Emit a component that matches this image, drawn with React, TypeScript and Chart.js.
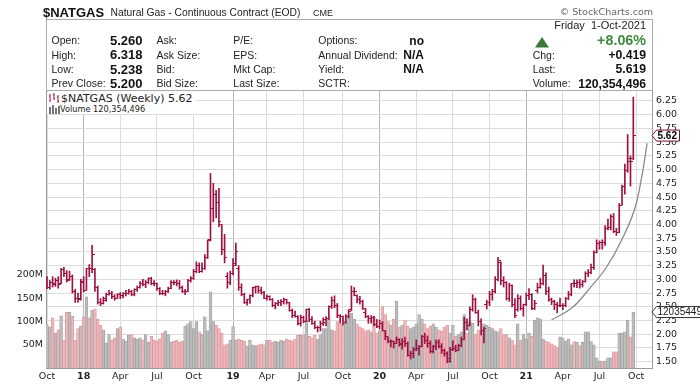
import React, { useEffect, useRef } from 'react';
import { Chart, registerables } from 'chart.js';

Chart.register(...registerables);

// ---------- data (weekly bars, week index 0 = week of 2 Oct 2017) ----------
const OPEN = [
  3.01, 2.86, 2.95, 2.90, 2.98, 2.92, 3.18, 3.10, 3.00, 3.05, 2.78, 2.66, 2.65,
  2.96, 2.80, 3.20, 3.19, 3.18, 2.85, 2.58, 2.56, 2.66, 2.73, 2.75, 2.69, 2.66,
  2.73, 2.70, 2.74, 2.74, 2.78, 2.72, 2.81, 2.85, 2.93, 2.90, 2.95, 3.02, 2.93,
  2.92, 2.83, 2.75, 2.74, 2.78, 2.84, 2.95, 2.94, 2.93, 2.86, 2.78, 2.78, 2.98,
  3.01, 3.14, 3.25, 3.15, 3.20, 3.40, 3.72, 4.30, 4.55, 4.40, 4.00, 3.55, 3.05,
  2.95, 3.10, 3.28, 3.20, 2.85, 2.72, 2.58, 2.63, 2.70, 2.85, 2.87, 2.79, 2.76,
  2.66, 2.68, 2.64, 2.52, 2.56, 2.58, 2.60, 2.63, 2.57, 2.44, 2.34, 2.33, 2.20,
  2.31, 2.24, 2.45, 2.27, 2.20, 2.12, 2.12, 2.20, 2.22, 2.29, 2.50, 2.62, 2.52,
  2.35, 2.32, 2.21, 2.32, 2.45, 2.78, 2.70, 2.63, 2.60, 2.40, 2.33, 2.28, 2.31,
  2.18, 2.14, 2.20, 2.06, 1.95, 1.86, 1.86, 1.84, 1.90, 1.84, 1.87, 1.83, 1.62,
  1.65, 1.73, 1.74, 1.78, 1.95, 1.89, 1.84, 1.69, 1.78, 1.85, 1.78, 1.70, 1.65,
  1.55, 1.72, 1.74, 1.70, 1.80, 1.91, 2.21, 2.16, 2.45, 2.63, 2.40, 2.24, 2.06,
  2.55, 2.57, 2.73, 2.77, 3.00, 3.30, 2.98, 2.95, 2.65, 2.88, 2.55, 2.45, 2.66,
  2.47, 2.54, 2.70, 2.72, 2.47, 2.80, 2.86, 2.92, 3.07, 2.77, 2.63, 2.60, 2.54,
  2.52, 2.52, 2.52, 2.65, 2.73, 2.93, 2.92, 2.95, 2.91, 2.97, 3.10, 3.12, 3.22,
  3.49, 3.65, 3.68, 3.67, 3.93, 3.95, 4.14, 3.88, 3.85, 4.35, 4.70, 4.98, 5.15,
  5.20,
];
const HIGH = [
  3.05, 2.98, 3.05, 3.02, 3.05, 3.20, 3.22, 3.16, 3.15, 3.08, 2.82, 2.75, 3.00,
  3.05, 3.20, 3.27, 3.62, 3.20, 2.88, 2.65, 2.68, 2.75, 2.80, 2.78, 2.72, 2.74,
  2.76, 2.76, 2.80, 2.82, 2.80, 2.83, 2.88, 2.96, 3.00, 2.98, 3.03, 3.04, 2.98,
  2.93, 2.85, 2.80, 2.80, 2.86, 2.98, 2.98, 2.99, 2.98, 2.88, 2.82, 3.00, 3.05,
  3.18, 3.32, 3.30, 3.30, 3.45, 3.72, 4.93, 4.75, 4.62, 4.66, 4.00, 3.82, 3.12,
  3.15, 3.38, 3.66, 3.25, 2.92, 2.75, 2.64, 2.72, 2.86, 2.88, 2.88, 2.86, 2.78,
  2.72, 2.70, 2.65, 2.58, 2.62, 2.63, 2.66, 2.64, 2.58, 2.46, 2.42, 2.34, 2.35,
  2.33, 2.46, 2.47, 2.32, 2.24, 2.15, 2.24, 2.30, 2.32, 2.52, 2.68, 2.70, 2.56,
  2.36, 2.33, 2.36, 2.45, 2.88, 2.85, 2.72, 2.69, 2.62, 2.47, 2.34, 2.34, 2.33,
  2.27, 2.26, 2.23, 2.07, 1.95, 1.90, 1.88, 1.95, 1.92, 1.92, 1.95, 1.86, 1.69,
  1.76, 1.90, 1.80, 1.98, 2.02, 1.97, 1.88, 1.80, 1.90, 1.90, 1.83, 1.73, 1.68,
  1.76, 1.88, 1.80, 1.82, 1.95, 2.31, 2.28, 2.50, 2.72, 2.66, 2.44, 2.28, 2.13,
  2.62, 2.78, 2.82, 3.05, 3.40, 3.32, 3.05, 2.96, 2.93, 2.90, 2.65, 2.72, 2.70,
  2.55, 2.75, 2.83, 2.74, 2.62, 2.93, 3.02, 3.26, 3.12, 2.86, 2.66, 2.62, 2.58,
  2.66, 2.56, 2.67, 2.78, 2.93, 2.99, 2.99, 3.00, 2.98, 3.14, 3.18, 3.28, 3.52,
  3.72, 3.70, 3.72, 3.98, 4.10, 4.18, 4.20, 3.93, 4.38, 4.72, 5.10, 5.64, 5.25,
  6.32,
];
const LOW = [
  2.83, 2.82, 2.86, 2.87, 2.84, 2.92, 3.05, 2.95, 2.98, 2.75, 2.58, 2.58, 2.62,
  2.77, 2.80, 3.05, 3.12, 2.78, 2.55, 2.52, 2.55, 2.60, 2.71, 2.65, 2.62, 2.65,
  2.65, 2.66, 2.70, 2.73, 2.70, 2.70, 2.78, 2.84, 2.88, 2.85, 2.92, 2.90, 2.88,
  2.80, 2.72, 2.72, 2.70, 2.76, 2.83, 2.90, 2.88, 2.82, 2.76, 2.72, 2.77, 2.95,
  3.00, 3.12, 3.12, 3.13, 3.18, 3.38, 3.70, 4.05, 4.12, 3.96, 3.45, 3.30, 2.84,
  2.90, 3.08, 3.25, 2.80, 2.70, 2.56, 2.53, 2.56, 2.68, 2.75, 2.75, 2.73, 2.65,
  2.62, 2.62, 2.50, 2.46, 2.52, 2.52, 2.55, 2.55, 2.42, 2.30, 2.31, 2.17, 2.15,
  2.21, 2.23, 2.23, 2.18, 2.10, 2.04, 2.06, 2.16, 2.15, 2.27, 2.47, 2.48, 2.30,
  2.20, 2.17, 2.20, 2.30, 2.43, 2.70, 2.57, 2.55, 2.45, 2.30, 2.20, 2.20, 2.15,
  2.12, 2.10, 2.06, 1.90, 1.84, 1.77, 1.75, 1.83, 1.78, 1.73, 1.78, 1.60, 1.55,
  1.57, 1.70, 1.62, 1.77, 1.83, 1.76, 1.66, 1.66, 1.72, 1.75, 1.65, 1.60, 1.48,
  1.49, 1.70, 1.68, 1.70, 1.77, 1.90, 2.08, 2.15, 2.42, 2.38, 2.15, 1.99, 1.84,
  2.46, 2.52, 2.62, 2.75, 2.97, 2.90, 2.86, 2.62, 2.60, 2.50, 2.30, 2.42, 2.44,
  2.33, 2.52, 2.63, 2.45, 2.45, 2.75, 2.84, 2.90, 2.72, 2.60, 2.54, 2.45, 2.39,
  2.50, 2.45, 2.50, 2.63, 2.70, 2.86, 2.85, 2.84, 2.86, 2.95, 3.05, 3.10, 3.18,
  3.48, 3.55, 3.55, 3.62, 3.90, 3.90, 3.85, 3.80, 3.85, 4.35, 4.55, 4.95, 4.70,
  5.18,
];
const CLOSE = [
  2.85, 2.95, 2.92, 2.98, 2.90, 3.18, 3.10, 2.98, 3.06, 2.78, 2.66, 2.64, 2.95,
  2.80, 3.20, 3.19, 3.45, 2.85, 2.58, 2.56, 2.62, 2.73, 2.75, 2.69, 2.66, 2.73,
  2.70, 2.74, 2.74, 2.78, 2.72, 2.81, 2.85, 2.93, 2.90, 2.95, 3.02, 2.93, 2.92,
  2.83, 2.75, 2.74, 2.78, 2.84, 2.95, 2.94, 2.93, 2.86, 2.78, 2.78, 2.98, 3.01,
  3.14, 3.25, 3.15, 3.20, 3.40, 3.70, 4.30, 4.55, 4.40, 4.05, 3.55, 3.40, 2.95,
  3.10, 3.25, 3.50, 2.85, 2.72, 2.58, 2.63, 2.70, 2.85, 2.87, 2.79, 2.76, 2.66,
  2.68, 2.64, 2.52, 2.56, 2.58, 2.60, 2.63, 2.57, 2.44, 2.34, 2.33, 2.20, 2.31,
  2.24, 2.45, 2.27, 2.20, 2.12, 2.12, 2.20, 2.27, 2.29, 2.50, 2.62, 2.52, 2.35,
  2.32, 2.21, 2.32, 2.41, 2.78, 2.78, 2.63, 2.60, 2.46, 2.33, 2.28, 2.31, 2.18,
  2.14, 2.20, 2.06, 1.95, 1.86, 1.86, 1.84, 1.90, 1.82, 1.87, 1.83, 1.62, 1.65,
  1.73, 1.74, 1.78, 1.95, 1.89, 1.84, 1.69, 1.78, 1.85, 1.78, 1.70, 1.65, 1.50,
  1.72, 1.74, 1.70, 1.80, 1.91, 2.21, 2.16, 2.45, 2.63, 2.40, 2.24, 2.06, 2.10,
  2.57, 2.73, 2.77, 3.00, 3.35, 2.98, 2.95, 2.65, 2.88, 2.55, 2.35, 2.66, 2.47,
  2.54, 2.70, 2.72, 2.47, 2.56, 2.86, 2.92, 3.07, 2.77, 2.63, 2.60, 2.54, 2.52,
  2.52, 2.52, 2.65, 2.73, 2.93, 2.92, 2.95, 2.91, 2.97, 3.10, 3.12, 3.22, 3.49,
  3.65, 3.68, 3.67, 3.93, 3.95, 4.14, 3.88, 3.85, 4.35, 4.70, 4.98, 5.20, 5.14,
  5.62,
];
// weekly volume, millions
const VOLUME_M = [
  92, 88, 108, 75, 82, 112, 60, 120, 120, 111, 60, 85, 90,
  110, 153, 108, 124, 127, 105, 92, 82, 54, 72, 60, 65, 85,
  88, 62, 58, 70, 72, 65, 62, 65, 60, 72, 55, 68, 60,
  58, 62, 75, 80, 72, 55, 58, 60, 55, 58, 90, 95, 100,
  85, 100, 78, 72, 110, 80, 164, 100, 92, 85, 75, 50, 52,
  60, 89, 60, 62, 60, 58, 47, 60, 50, 48, 50, 52, 50,
  60, 60, 55, 58, 55, 60, 58, 62, 60, 58, 62, 70, 70,
  72, 102, 68, 65, 70, 62, 72, 85, 85, 107, 82, 80, 100,
  95, 92, 100, 112, 118, 105, 95, 88, 85, 80, 82, 78, 110,
  75, 80, 132, 115, 100, 92, 105, 144, 88, 92, 102, 90, 85,
  88, 95, 115, 105, 95, 85, 90, 95, 88, 82, 80, 88, 92,
  75, 92, 68, 72, 78, 115, 75, 100, 96, 72, 82, 78, 95,
  92, 88, 85, 80, 78, 85, 72, 72, 65, 60, 50, 95, 60,
  72, 62, 75, 68, 103, 108, 106, 62, 58, 56, 52, 48, 45,
  67, 64, 58, 62, 50, 57, 55, 48, 55, 78, 78, 57, 50,
  22, 15, 14, 15, 22, 22, 35, 35, 75, 75, 78, 103, 67,
  120.354496,
];

const X_TICKS = [0, 13, 26, 39, 52, 66, 78, 91, 105, 118, 131, 144, 157, 170, 183, 196, 209];
const X_LABELS = ['Oct', '18', 'Apr', 'Jul', 'Oct', '19', 'Apr', 'Jul', 'Oct', '20', 'Apr', 'Jul', 'Oct', '21', 'Apr', 'Jul', 'Oct'];
const YEAR_LABELS = ['18', '19', '20', '21'];
const PRICE_TICKS = [1.5, 1.75, 2.0, 2.25, 2.5, 2.75, 3.0, 3.25, 3.5, 3.75, 4.0, 4.25, 4.5, 4.75, 5.0, 5.25, 5.5, 5.75, 6.0, 6.25];
const VOL_TICKS = [50, 100, 150, 200];

// hand-drawn arc annotation (week index, price)
const ARC_X = [179.0, 186.7, 192.6, 198.6, 203.9, 209.2, 211.5, 212.9];
const ARC_Y = [2.26, 2.5, 2.84, 3.23, 3.72, 4.41, 5.02, 5.48];

const LAST_PRICE = 5.62;
const LAST_VOLUME = 120354496;

// ---------- styles ----------
const VERDANA = "'DejaVu Sans', Verdana, sans-serif";
const ARIAL = "'Liberation Sans', Arial, sans-serif";
const BAR_COLOR = '#9e1243';
const X_MIN = -0.355;
const X_MAX = 214.63;
const P_MIN = 1.385;
const P_MAX = 6.432;
const V_MAX = 595.7;

function makeTick(side: 'left' | 'right') {
  const c = document.createElement('canvas');
  c.width = 5;
  c.height = 1;
  const g = c.getContext('2d')!;
  g.fillStyle = BAR_COLOR;
  if (side === 'left') g.fillRect(0, 0, 2, 1);
  else g.fillRect(3, 0, 2, 1);
  return c;
}

function drawTag(ctx: CanvasRenderingContext2D, tip: number, y: number, w: number, text: string, bold: boolean, stroke: string, color: string) {
  const h = 5.5;
  ctx.save();
  ctx.beginPath();
  ctx.moveTo(tip, y);
  ctx.lineTo(tip + 4.5, y - h);
  ctx.lineTo(tip + 4.5 + w, y - h);
  ctx.lineTo(tip + 4.5 + w, y + h);
  ctx.lineTo(tip + 4.5, y + h);
  ctx.closePath();
  ctx.fillStyle = '#fff';
  ctx.fill();
  ctx.lineWidth = 1;
  ctx.strokeStyle = stroke;
  ctx.stroke();
  ctx.fillStyle = color;
  ctx.font = (bold ? 'bold ' : '') + '10px ' + ARIAL;
  ctx.textBaseline = 'middle';
  ctx.textAlign = 'left';
  ctx.fillText(text, tip + 5.5, y + 0.5);
  ctx.restore();
}

const tagPlugin = {
  id: 'lastTags',
  afterDraw(chart: any) {
    const ctx = chart.ctx;
    const area = chart.chartArea;
    const yv = chart.scales.vol.getPixelForValue(LAST_VOLUME / 1e6);
    drawTag(ctx, area.right, yv, 60, String(LAST_VOLUME), false, '#333', '#222');
    const yp = chart.scales.price.getPixelForValue(LAST_PRICE);
    drawTag(ctx, area.right, yp, 23, LAST_PRICE.toFixed(2), true, '#7a1030', '#000');
  },
};

function T(props: { x: number; y: number; s: number; b?: boolean; c?: string; r?: boolean; f?: string; children: any }) {
  const { x, y, s, b, c, r, f, children } = props;
  return (
    <div
      style={{
        position: 'absolute',
        left: r ? undefined : x,
        right: r ? 700 - x : undefined,
        top: y - s * 0.5,
        fontSize: s,
        lineHeight: 1,
        fontWeight: b ? 'bold' : 'normal',
        color: c || '#222',
        fontFamily: f || ARIAL,
        whiteSpace: 'pre',
      }}
    >
      {children}
    </div>
  );
}

export default function App() {
  const ref = useRef<HTMLCanvasElement | null>(null);

  useEffect(() => {
    if (!ref.current) return;
    const idx = CLOSE.map((_, i) => i);
    const volColors = idx.map((i) => (i > 0 && CLOSE[i] < CLOSE[i - 1] ? '#f0b7bb' : '#bdbdbd'));
    const volBorders = idx.map((i) => (i > 0 && CLOSE[i] < CLOSE[i - 1] ? '#d7959b' : '#9d9d9d'));
    const chart = new Chart(ref.current, {
      type: 'bar',
      data: {
        datasets: [
          {
            type: 'scatter',
            data: idx.map((i) => ({ x: i, y: CLOSE[i] })),
            yAxisID: 'price',
            pointStyle: makeTick('right') as any,
            pointRadius: 1,
            order: 0,
          } as any,
          {
            type: 'scatter',
            data: idx.map((i) => ({ x: i, y: OPEN[i] })),
            yAxisID: 'price',
            pointStyle: makeTick('left') as any,
            pointRadius: 1,
            order: 0,
          } as any,
          {
            type: 'bar',
            data: idx.map((i) => ({ x: i, y: [LOW[i], HIGH[i]] })),
            yAxisID: 'price',
            backgroundColor: BAR_COLOR,
            barThickness: 1,
            grouped: false,
            borderWidth: 0,
            order: 1,
          } as any,
          {
            type: 'line',
            data: ARC_X.map((x, k) => ({ x, y: ARC_Y[k] })),
            yAxisID: 'price',
            borderColor: '#8a8a8a',
            borderWidth: 1.3,
            pointRadius: 0,
            cubicInterpolationMode: 'monotone',
            fill: false,
            order: 2,
          } as any,
          {
            type: 'bar',
            data: idx.map((i) => ({ x: i, y: VOLUME_M[i] })),
            yAxisID: 'vol',
            backgroundColor: volColors,
            borderColor: volBorders,
            borderWidth: 0.7,
            barThickness: 2.82,
            grouped: false,
            order: 3,
          } as any,
        ],
      },
      options: {
        animation: false,
        responsive: false,
        maintainAspectRatio: false,
        events: [],
        layout: { padding: { top: 91, left: 0, right: 0, bottom: 0 } },
        plugins: { legend: { display: false }, tooltip: { enabled: false } },
        scales: {
          x: {
            type: 'linear',
            min: X_MIN,
            max: X_MAX,
            offset: false,
            afterBuildTicks: (s: any) => {
              s.ticks = X_TICKS.map((v) => ({ value: v }));
            },
            afterFit: (s: any) => {
              s.height = 17;
            },
            grid: {
              offset: false,
              drawTicks: false,
              color: (ctx: any) => {
                const k = X_TICKS.indexOf(ctx.tick ? ctx.tick.value : -1);
                return k >= 0 && YEAR_LABELS.includes(X_LABELS[k]) ? '#b5b5b5' : '#dcdcdc';
              },
            },
            border: { display: true, color: '#9a9a9a' },
            ticks: {
              autoSkip: false,
              maxRotation: 0,
              padding: 3,
              color: '#222',
              font: (ctx: any) => {
                const k = X_TICKS.indexOf(ctx.tick ? ctx.tick.value : -1);
                const yr = k >= 0 && YEAR_LABELS.includes(X_LABELS[k]);
                return { family: VERDANA, size: 9.5, weight: yr ? 'bold' : 'normal' };
              },
              callback: (_v: any, i: number) => X_LABELS[i],
            },
          } as any,
          price: {
            type: 'linear',
            position: 'right',
            min: P_MIN,
            max: P_MAX,
            beginAtZero: false,
            afterBuildTicks: (s: any) => {
              s.ticks = PRICE_TICKS.map((v) => ({ value: v }));
            },
            afterFit: (s: any) => {
              s.width = 48;
            },
            grid: { drawTicks: false, color: '#dcdcdc' },
            border: { display: true, color: '#9a9a9a' },
            ticks: {
              padding: 4,
              color: '#222',
              font: { family: VERDANA, size: 9.5 },
              callback: (v: any) => Number(v).toFixed(2),
            },
          } as any,
          vol: {
            type: 'linear',
            position: 'left',
            min: 0,
            max: V_MAX,
            afterBuildTicks: (s: any) => {
              s.ticks = VOL_TICKS.map((v) => ({ value: v }));
            },
            afterFit: (s: any) => {
              s.width = 46;
            },
            grid: { display: false, drawTicks: false },
            border: { display: true, color: '#9a9a9a' },
            ticks: {
              padding: 3,
              color: '#222',
              font: { family: VERDANA, size: 9.5 },
              callback: (v: any) => v + 'M',
            },
          } as any,
        },
      },
      plugins: [tagPlugin],
    });
    return () => chart.destroy();
  }, []);

  const rows = [40.5, 54.8, 69.2, 83.6];
  return (
    <div style={{ position: 'absolute', left: 0, top: 0, width: 700, height: 385, background: '#fff', overflow: 'hidden' }}>
      <canvas ref={ref} width={700} height={385} style={{ position: 'absolute', left: 0, top: 0, width: 700, height: 385 }} />
      {/* title line */}
      <T x={43} y={12} s={13} b c="#111">$NATGAS</T>
      <T x={110.5} y={12.8} s={10.3} c="#222">Natural Gas - Continuous Contract (EOD)</T>
      <T x={313} y={13.2} s={9} c="#222">CME</T>
      <T x={653} y={11.7} s={9.5} r f={VERDANA} c="#666">© StockCharts.com</T>
      {/* header box */}
      <div style={{ position: 'absolute', left: 46, top: 19, width: 607, height: 72, border: '1px solid #ababab', boxSizing: 'border-box' }} />
      <T x={646} y={25.3} s={11} r>{'Friday  1-Oct-2021'}</T>
      {['Open:', 'High:', 'Low:', 'Prev Close:'].map((t, k) => (
        <T key={'a' + k} x={51.5} y={rows[k]} s={10.5}>{t}</T>
      ))}
      {['5.260', '6.318', '5.238', '5.200'].map((t, k) => (
        <T key={'b' + k} x={110} y={rows[k]} s={13} b c="#111">{t}</T>
      ))}
      {['Ask:', 'Ask Size:', 'Bid:', 'Bid Size:'].map((t, k) => (
        <T key={'c' + k} x={156.5} y={rows[k]} s={10.5}>{t}</T>
      ))}
      {['P/E:', 'EPS:', 'Mkt Cap:', 'Last Size:'].map((t, k) => (
        <T key={'d' + k} x={233.3} y={rows[k]} s={10.5}>{t}</T>
      ))}
      {['Options:', 'Annual Dividend:', 'Yield:', 'SCTR:'].map((t, k) => (
        <T key={'e' + k} x={318.3} y={rows[k]} s={10.5}>{t}</T>
      ))}
      {['no', 'N/A', 'N/A'].map((t, k) => (
        <T key={'f' + k} x={424} y={rows[k]} s={12} b r c="#111">{t}</T>
      ))}
      <svg style={{ position: 'absolute', left: 535, top: 36.5 }} width={15} height={11}>
        <polygon points="7,0 14,10.5 0,10.5" fill="#3c7a3c" />
      </svg>
      <T x={646} y={rows[0]} s={14.3} b r c="#3f8a3f">+8.06%</T>
      {['Chg:', 'Last:', 'Volume:'].map((t, k) => (
        <T key={'g' + k} x={532.7} y={rows[k + 1]} s={10.5}>{t}</T>
      ))}
      {['+0.419', '5.619', '120,354,496'].map((t, k) => (
        <T key={'h' + k} x={646} y={rows[k + 1]} s={12.2} b r c="#111">{t}</T>
      ))}
      {/* in-plot legend */}
      <div style={{ position: 'absolute', left: 47, top: 92, width: 149, height: 22, background: '#fff' }} />
      <svg style={{ position: 'absolute', left: 48, top: 93 }} width={12} height={10}>
        <path d="M2 1v8M1 3h1M2 7h1M6 0v7M5 2h1M6 5h1M10 2v8M9 4h1M10 8h1" stroke={BAR_COLOR} strokeWidth={1} fill="none" />
      </svg>
      <T x={61} y={98.3} s={11} f={VERDANA} c="#222">$NATGAS (Weekly) 5.62</T>
      <svg style={{ position: 'absolute', left: 48, top: 104 }} width={12} height={10}>
        <path d="M1 3h2v7H1zM4 1h2v9H4zM7 4h2v6H7zM10 2h2v8h-2z" fill="#777" />
      </svg>
      <T x={60} y={108.7} s={8.2} f={VERDANA} c="#222">Volume 120,354,496</T>
    </div>
  );
}
